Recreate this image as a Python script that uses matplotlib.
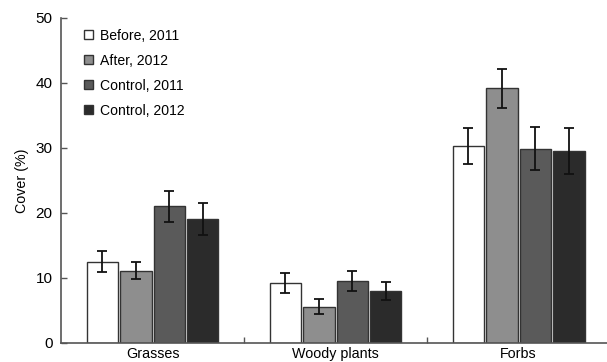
import numpy as np
import matplotlib.pyplot as plt

plt.rcParams['font.family'] = ['Liberation Sans', 'DejaVu Sans']

# data
groups = ["Grasses", "Woody plants", "Forbs"]
series = ["Before, 2011", "After, 2012", "Control, 2011", "Control, 2012"]
colors = ["#ffffff", "#8e8e8e", "#5a5a5a", "#2b2b2b"]

before_2011 = [12.5, 9.2, 30.3]
after_2012 = [11.1, 5.6, 39.2]
control_2011 = [21.0, 9.6, 29.9]
control_2012 = [19.1, 8.0, 29.5]

before_2011_err = [1.6, 1.55, 2.7]
after_2012_err = [1.3, 1.15, 3.0]
control_2011_err = [2.4, 1.55, 3.35]
control_2012_err = [2.5, 1.35, 3.5]

values = [before_2011, after_2012, control_2011, control_2012]
errors = [before_2011_err, after_2012_err, control_2011_err, control_2012_err]

fig = plt.figure(figsize=(6.07, 3.62), dpi=100)
ax = fig.add_axes([0.1005, 0.0525, 0.9045, 0.8978])

x = np.arange(len(groups))
step = 0.183
width = 0.172
axis_col = "#555555"

for i in range(4):
    pos = x + (i - 1.5) * step
    ax.bar(pos, values[i], width, color=colors[i], edgecolor="#333333",
           linewidth=1.0, label=series[i], zorder=2)
    ax.errorbar(pos, values[i], yerr=errors[i], fmt="none", ecolor="#111111",
                elinewidth=1.3, capsize=3.5, capthick=1.3, zorder=3)

ax.set_xlim(-0.5, 2.5)
ax.set_ylim(0, 50)
ax.set_yticks([0, 10, 20, 30, 40, 50])
ax.set_xticks([0.5, 1.5])
ax.set_xticklabels([])
ax.set_xticks(x, minor=True)
ax.set_xticklabels(groups, minor=True)
ax.tick_params(axis="x", which="minor", length=0, labelsize=10.3, pad=3)
ax.tick_params(axis="x", which="major", direction="in", length=4,
               color=axis_col, width=1)
ax.tick_params(axis="y", direction="in", length=4, color=axis_col,
               width=1, labelsize=11, pad=6)

for s in ["top", "right"]:
    ax.spines[s].set_visible(False)
for s in ["left", "bottom"]:
    ax.spines[s].set_color(axis_col)
    ax.spines[s].set_linewidth(1.2)

ax.set_ylabel("Cover (%)", fontsize=10.3, labelpad=5)

ax.legend(loc="upper left", bbox_to_anchor=(0.027, 0.993), frameon=False,
          fontsize=10.1, handlelength=0.6, handleheight=0.6, handletextpad=0.5,
          labelspacing=0.78, borderaxespad=0.2)

fig.savefig("out.png", dpi=100)
